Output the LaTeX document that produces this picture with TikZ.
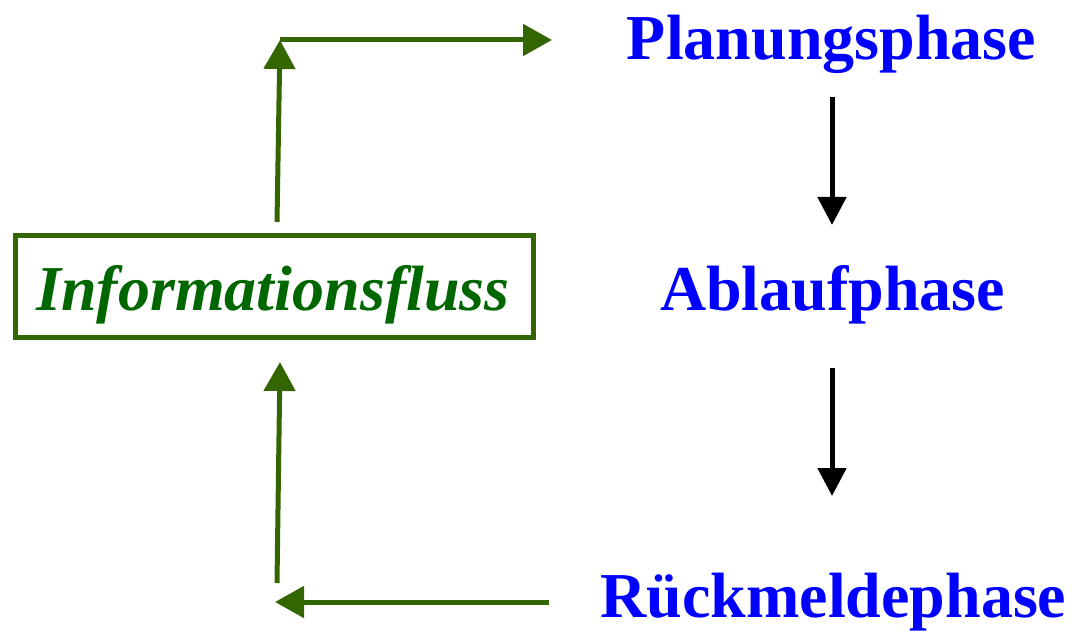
\documentclass[tikz,border=0pt]{standalone}
\usepackage{fontspec}
\setmainfont{Liberation Serif}
\usetikzlibrary{arrows.meta}
\definecolor{arrgreen}{RGB}{51,102,0}
\definecolor{txtgreen}{RGB}{0,102,0}
\definecolor{phaseblue}{RGB}{0,0,255}
\tikzset{
  phase/.style={anchor=base, text=phaseblue, font=\fontsize{64}{70}\selectfont\bfseries, inner sep=0pt},
  infotext/.style={anchor=base, text=txtgreen, font=\fontsize{64}{70}\selectfont\bfseries\itshape, inner sep=0pt},
  infobox/.style={draw=arrgreen, line width=5pt, minimum width=518pt, minimum height=102pt, inner sep=0pt},
  garrow/.style={draw=arrgreen, line width=5pt, -{Triangle[length=29pt,width=31pt]}},
  karrow/.style={draw=black, line width=5pt, -{Triangle[length=28pt,width=28pt]}}
}
\begin{document}
\begin{tikzpicture}[x=1pt,y=-1pt]
\useasboundingbox (0,0) rectangle (1073,631);
\node[phase] (plan) at (831.5,60) {Planungsphase};
\node[phase] (ablauf) at (832.5,310) {Ablaufphase};
\node[phase] (rueck) at (833.5,617) {Rückmeldephase};
\node[infobox] (box) at (274.5,286.5) {};
\node[infotext] (info) at (273,310) {Informationsfluss};
% black arrows
\coordinate (k1s) at (832,97);
\coordinate (k1e) at (832,225);
\coordinate (k2s) at (832,368);
\coordinate (k2e) at (832,496);
\draw[karrow] (k1s) -- (k1e);
\draw[karrow] (k2s) -- (k2e);
% green arrows
\coordinate (u1s) at (277,222);
\coordinate (u1e) at (280,40);
\coordinate (h1e) at (552,40);
\draw[garrow] (u1s) -- (u1e);
\draw[garrow] (u1e) -- (h1e);
\coordinate (h2s) at (549,602);
\coordinate (h2e) at (275,602);
\coordinate (u2s) at (277,583);
\coordinate (u2e) at (280,362);
\draw[garrow] (h2s) -- (h2e);
\draw[garrow] (u2s) -- (u2e);
\end{tikzpicture}
\end{document}
